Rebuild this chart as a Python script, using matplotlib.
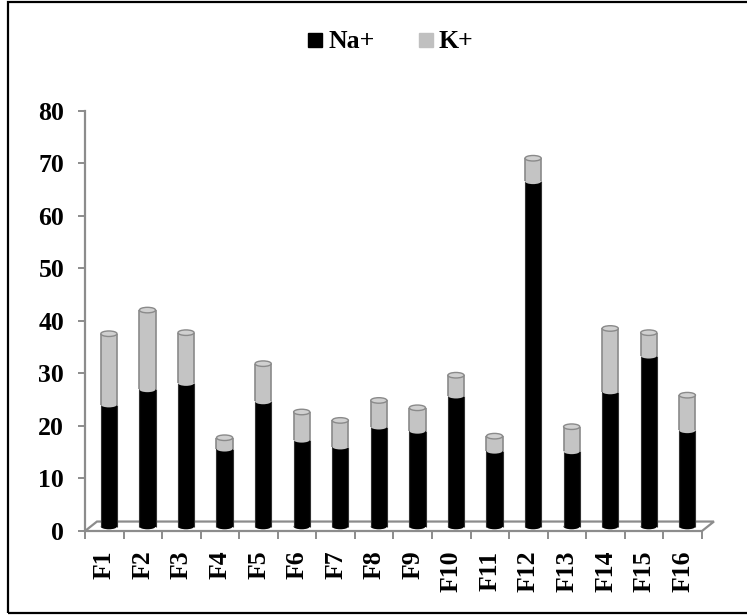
import matplotlib
matplotlib.use("Agg")
import matplotlib.pyplot as plt
from matplotlib.patches import Ellipse, Polygon, Rectangle
from matplotlib.lines import Line2D

categories = ["F1", "F2", "F3", "F4", "F5", "F6", "F7", "F8",
              "F9", "F10", "F11", "F12", "F13", "F14", "F15", "F16"]
na_values = [23.2, 26.1, 27.3, 14.8, 23.8, 16.5, 15.2, 19.0,
             18.2, 24.9, 14.4, 65.7, 14.3, 25.7, 32.5, 18.3]
k_values = [13.5, 15.1, 9.6, 2.1, 7.2, 5.3, 5.0, 5.0,
            4.4, 3.9, 2.8, 4.4, 4.7, 12.0, 4.4, 6.7]
y_ticks = [0, 10, 20, 30, 40, 50, 60, 70, 80]
series_names = ["Na+", "K+"]

plt.rcParams['font.family'] = ['Liberation Serif', 'DejaVu Serif']
plt.rcParams['font.weight'] = 'bold'

W, H = 747, 615
fig = plt.figure(figsize=(W / 100, H / 100), dpi=100)
ax = fig.add_axes([85 / W, (H - 531) / H, (702 - 85) / W, (531 - 110.7) / H])

n = len(categories)
ax.set_xlim(-0.5, n - 0.5)
ax.set_ylim(0, 80)

GRID = '#8c8c8c'
depth_dx = 0.31   # floor depth in x units
depth_dy = 1.8    # floor depth in y units
base = 0.85       # bars sit at mid depth
shift = 0.12
bw = 0.42
eh = 1.05         # ellipse height in data units

# floor
floor = Polygon([(-0.5, 0), (n - 0.5, 0), (n - 0.5 + depth_dx, depth_dy),
                 (-0.5 + depth_dx, depth_dy)], closed=True, fill=False,
                edgecolor=GRID, linewidth=1.6, clip_on=False, zorder=1)
ax.add_patch(floor)

xs = [i + shift for i in range(n)]
tops_na = [base + v for v in na_values]
tops_all = [base + a + b for a, b in zip(na_values, k_values)]

# black cylinders
ax.bar(xs, na_values, bottom=base, width=bw, color='black', linewidth=0, zorder=2)
for x in xs:
    ax.add_patch(Ellipse((x, base), bw, eh, facecolor='black', edgecolor='none', zorder=2))
ax.vlines([x - bw / 2 for x in xs], base, tops_na, colors='#303030', linewidth=0.8, zorder=2.1)
ax.vlines([x + bw / 2 for x in xs], base, tops_na, colors='#303030', linewidth=0.8, zorder=2.1)

# grey cylinders
ax.bar(xs, k_values, bottom=tops_na, width=bw, color='#c4c4c4', linewidth=0, zorder=3)
for x, y in zip(xs, tops_na):
    ax.add_patch(Ellipse((x, y), bw, eh, facecolor='#c4c4c4', edgecolor='none', zorder=3))
ax.vlines([x - bw / 2 for x in xs], tops_na, tops_all, colors='#8a8a8a', linewidth=1.2, zorder=3.1)
ax.vlines([x + bw / 2 for x in xs], tops_na, tops_all, colors='#8a8a8a', linewidth=1.2, zorder=3.1)
for x, y in zip(xs, tops_all):
    ax.add_patch(Ellipse((x, y), bw, eh, facecolor='#d0d0d0', edgecolor='#8a8a8a',
                         linewidth=1.0, zorder=4))

# axes styling
for s in ['top', 'right', 'bottom']:
    ax.spines[s].set_visible(False)
ax.spines['left'].set_color(GRID)
ax.spines['left'].set_linewidth(1.6)
ax.set_yticks(y_ticks)
ax.set_yticklabels([str(t) for t in y_ticks], fontsize=18.5, fontweight='bold')
ax.tick_params(axis='y', direction='out', length=5, width=1.4, color=GRID, pad=10)

ax.set_xticks([i + 0.5 for i in range(-1, n)], minor=False)
ax.set_xticklabels([])
ax.set_xticks(list(range(n)), minor=True)
ax.set_xticklabels(categories, minor=True, rotation=90, fontsize=18.5, fontweight='bold',
                   va='top', ha='center')
ax.tick_params(axis='x', which='major', direction='out', length=6, width=1.4, color=GRID)
ax.tick_params(axis='x', which='minor', length=0, pad=14)
ax.patch.set_visible(False)

# legend
handles = [Line2D([], [], marker='s', linestyle='none', markersize=10,
                  markerfacecolor='black', markeredgecolor='black'),
           Line2D([], [], marker='s', linestyle='none', markersize=10,
                  markerfacecolor='#c0c0c0', markeredgecolor='#c0c0c0')]
fig.legend(handles, series_names, loc='center', bbox_to_anchor=(388 / W, 1 - 42 / H),
           ncol=2, frameon=False, prop={'size': 18.5, 'weight': 'bold'},
           handletextpad=0.0, columnspacing=1.5, handlelength=1.0)

# outer frame
fig.patches.append(Rectangle((8 / W, 2 / H), (W + 10 - 8) / W, (613 - 2) / H,
                             transform=fig.transFigure, fill=False,
                             edgecolor='black', linewidth=1.6, figure=fig))

fig.savefig('out.png', dpi=100)
